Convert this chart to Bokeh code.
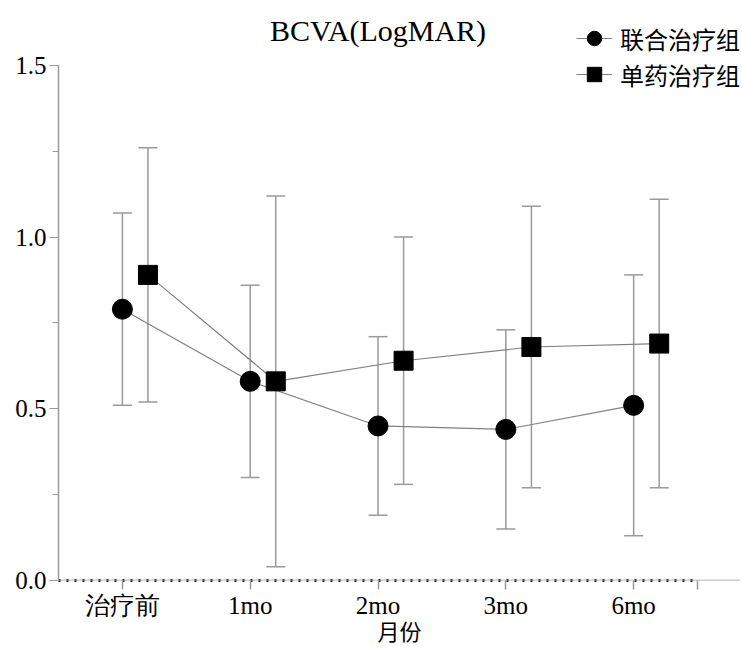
from bokeh.plotting import figure
from bokeh.models import (ColumnDataSource, Range1d, Whisker, Legend, LegendItem, Label,
                          FixedTicker, PrintfTickFormatter, Span)
from bokeh.transform import dodge
from bokeh.embed import file_html
from bokeh.resources import INLINE

categories = ["治疗前", "1mo", "2mo", "3mo", "6mo"]

combo_mean = [0.79, 0.58, 0.45, 0.44, 0.51]
combo_upper = [1.07, 0.86, 0.71, 0.73, 0.89]
combo_lower = [0.51, 0.30, 0.19, 0.15, 0.13]

single_mean = [0.89, 0.58, 0.64, 0.68, 0.69]
single_upper = [1.26, 1.12, 1.00, 1.09, 1.11]
single_lower = [0.52, 0.04, 0.28, 0.27, 0.27]

series_names = ["联合治疗组", "单药治疗组"]
title_text = "BCVA(LogMAR)"
x_title = "月份"
y_ticks = [0.0, 0.5, 1.0, 1.5]
y_minor = [0.25, 0.75, 1.25]

SERIF = "Liberation Serif"
CJK = "Noto Sans CJK SC"

idx = list(range(len(categories)))
src_c = ColumnDataSource(dict(x=idx, y=combo_mean, up=combo_upper, lo=combo_lower))
src_s = ColumnDataSource(dict(x=idx, y=single_mean, up=single_upper, lo=single_lower))

W, H = 740, 648
p = figure(width=W, height=H,
           x_range=Range1d(-0.5, 4.836), y_range=Range1d(0, 1.689),
           output_backend="svg", toolbar_location=None,
           min_border_left=58, min_border_right=0, min_border_top=0, min_border_bottom=68)
p.outline_line_color = None
p.grid.grid_line_color = None
p.background_fill_color = "white"
p.border_fill_color = "white"

xc = dodge("x", 0.0)
xs = dodge("x", 0.2)

def style_whisker(w):
    for h in (w.upper_head, w.lower_head):
        h.size = 19
        h.line_color = "#9a9a9a"
        h.line_width = 1.5

wc = Whisker(source=src_c, base=xc, upper="up", lower="lo", line_color="#9a9a9a", line_width=1.5)
ws = Whisker(source=src_s, base=xs, upper="up", lower="lo", line_color="#9a9a9a", line_width=1.5)
style_whisker(wc)
style_whisker(ws)
p.add_layout(wc)
p.add_layout(ws)

lc = p.line(x=xc, y="y", source=src_c, line_color="#808080", line_width=1.2)
ls = p.line(x=xs, y="y", source=src_s, line_color="#808080", line_width=1.2)
mc = p.scatter(x=xc, y="y", source=src_c, marker="circle", size=20, fill_color="black", line_color="black")
ms = p.scatter(x=xs, y="y", source=src_s, marker="square", size=19, fill_color="black", line_color="black")

# axes
p.yaxis.bounds = (0, 1.5)
p.yaxis.ticker = FixedTicker(ticks=y_ticks, minor_ticks=y_minor)
p.yaxis.formatter = PrintfTickFormatter(format="%.1f")
p.yaxis.axis_line_color = "#9a9a9a"
p.yaxis.axis_line_width = 1.5
p.yaxis.major_tick_line_color = "#9a9a9a"
p.yaxis.minor_tick_line_color = "#9a9a9a"
p.yaxis.major_tick_line_width = 1.2
p.yaxis.minor_tick_line_width = 1.2
p.yaxis.major_tick_in = 0
p.yaxis.major_tick_out = 9
p.yaxis.minor_tick_in = 0
p.yaxis.minor_tick_out = 6
p.yaxis.major_label_text_font = SERIF
p.yaxis.major_label_text_font_size = "25px"
p.yaxis.major_label_text_color = "black"
p.yaxis.major_label_standoff = 3

p.xaxis.bounds = (-0.5, 4.5)
p.xaxis.ticker = FixedTicker(ticks=idx + [4.5], minor_ticks=[])
p.xaxis.major_label_overrides = {**{i: c for i, c in zip(idx, categories)}, 4.5: ""}
p.xaxis.axis_line_color = "#111111"
p.xaxis.axis_line_dash = "2 6"
p.xaxis.axis_line_width = 3
p.xaxis.major_tick_line_color = "#9a9a9a"
p.xaxis.major_tick_line_width = 1.5
p.xaxis.major_tick_in = 0
p.xaxis.major_tick_out = 9
p.xaxis.major_label_text_font = SERIF
p.xaxis.major_label_text_font_size = "25px"
p.xaxis.major_label_text_color = "black"
p.xaxis.major_label_standoff = 2
p.xaxis.axis_label = x_title
p.xaxis.axis_label_text_font = CJK
p.xaxis.axis_label_text_font_size = "22px"
p.xaxis.axis_label_text_font_style = "normal"
p.xaxis.axis_label_text_color = "black"
p.xaxis.axis_label_standoff = -8

p.add_layout(Span(location=0, dimension="width", line_color="#9a9a9a", line_width=1.5))

# title drawn inside the (extended) frame, above the 1.5 end of the y axis
p.add_layout(Label(x=2, y=1.602, text=title_text, text_align="center", text_baseline="middle",
                   text_font=SERIF, text_font_size="30px", text_color="black"))

legend = Legend(items=[LegendItem(label=series_names[0], renderers=[lc, mc]),
                       LegendItem(label=series_names[1], renderers=[ls, ms])],
                location=(518, 488), margin=0, padding=0, spacing=-3,
                glyph_width=36, glyph_height=36, label_height=36, label_standoff=8,
                label_text_font=CJK, label_text_font_size="24px", label_text_color="black",
                border_line_color=None, background_fill_alpha=0)
p.add_layout(legend, "center")

open("out.html", "w").write(file_html(p, INLINE))
